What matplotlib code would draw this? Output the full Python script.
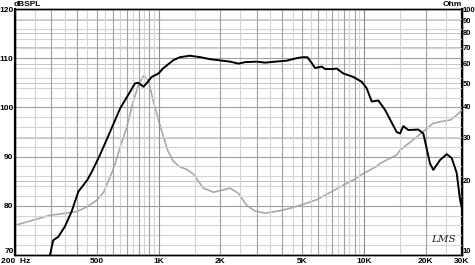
import numpy as np
import matplotlib
matplotlib.use("Agg")
import matplotlib.pyplot as plt
from matplotlib.ticker import NullLocator, FixedLocator

# -----------------------
# Data
# -----------------------
# SPL response (black, left axis)
spl_freq = [280, 296, 307, 325, 350, 377, 407, 449, 473, 518, 580, 650, 727,
            768, 797, 844, 874, 926, 1000, 1050, 1140, 1180, 1270, 1420, 1600,
            1780, 2040, 2230, 2450, 2640, 3000, 3300, 3700, 4200, 4700, 5000,
            5300, 5570, 5780, 6230, 6460, 7100, 7365, 7930, 8870, 9750, 10300,
            10910, 11740, 12660, 14420, 14980, 15540, 16430, 18380, 19450,
            20950, 21750, 23450, 25290, 26730, 28260, 29360, 30000]
spl_db = [67.5, 70.0, 73.0, 73.7, 75.8, 78.8, 82.9, 85.2, 86.9, 90.3, 95.0,
          99.8, 103.2, 104.9, 105.0, 104.2, 104.9, 106.2, 106.9, 107.9, 109.1,
          109.6, 110.2, 110.5, 110.2, 109.8, 109.5, 109.3, 108.9, 109.2, 109.3,
          109.1, 109.3, 109.5, 110.0, 110.2, 110.2, 109.0, 108.0, 108.3, 107.8,
          107.8, 107.9, 106.9, 106.2, 105.2, 103.9, 101.2, 101.4, 99.5, 95.0,
          94.7, 96.2, 95.4, 95.5, 94.7, 88.6, 87.3, 89.3, 90.5, 89.7, 86.7,
          81.2, 79.5]

# Impedance (grey, right axis)
imp_freq = [200, 296, 399, 449, 500, 540, 570, 610, 650, 700, 740, 797, 844,
            890, 940, 1010, 1060, 1110, 1180, 1270, 1370, 1480, 1560, 1650,
            1850, 2020, 2230, 2450, 2670, 2940, 3300, 3830, 4400, 5100, 5900,
            6800, 8000, 9000, 9600, 11500, 12000, 14400, 15000, 17000, 19400,
            21700, 23400, 26400, 28000, 30000]
imp_ohm = [13.2, 14.5, 15.0, 15.7, 16.7, 18.0, 20.0, 23.0, 27.5, 33.0, 40.0,
           49.0, 53.5, 51.5, 42.6, 34.3, 30.0, 26.5, 24.0, 22.8, 22.3, 21.3,
           20.0, 18.7, 18.0, 18.3, 18.7, 17.8, 16.0, 15.1, 14.8, 15.1, 15.5,
           16.1, 16.8, 17.9, 19.3, 20.3, 21.1, 22.9, 23.6, 25.5, 26.7, 29.0,
           31.7, 34.3, 34.8, 35.4, 36.8, 38.8]

x_ticks = [500, 1000, 2000, 5000, 10000, 20000, 30000]
x_labels = ["500", "1K", "2K", "5K", "10K", "20K", "30K"]
db_ticks = [70, 80, 90, 100, 110, 120]
ohm_ticks = [10, 20, 30, 40, 50, 60, 70, 80, 90, 100]

# -----------------------
# Figure
# -----------------------
plt.rcParams['font.family'] = ['Liberation Sans', 'DejaVu Sans']
FS = 6

fig = plt.figure(figsize=(4.75, 2.65), dpi=100)
ax = fig.add_axes([15 / 475, 10 / 265, 447 / 475, 246 / 265])
ax2 = ax.twinx()

ax.set_xscale("log")
ax.set_xlim(200, 30000)
ax.set_ylim(70, 120)
ax2.set_yscale("log")
ax2.set_ylim(10, 100)

# grid: whole steps darker, half steps lighter
dark, light = "#a0a0a0", "#d4d4d4"
for dec in [100, 1000, 10000]:
    for m in range(1, 10):
        f = m * dec
        if 200 <= f <= 30000:
            c = "#8c8c8c" if m == 1 else dark
            ax.axvline(f, color=c, lw=0.8, zorder=1)
        fh = (m + 0.5) * dec
        if 200 < fh < 30000:
            ax.axvline(fh, color=light, lw=0.8, zorder=0.5)
for d in range(70, 121, 2):
    ax.axhline(d, color=dark if d % 10 == 0 else light, lw=0.8,
               zorder=1 if d % 10 == 0 else 0.5)
for z in ohm_ticks[1:-1]:
    ax2.axhline(z, color="#c4c4c4", lw=0.7, zorder=0.4)

# curves
ax2.plot(imp_freq, imp_ohm, color="#a9a9a9", lw=1.2, zorder=3)
ax.plot(spl_freq, spl_db, color="black", lw=1.4, zorder=4)
ax.set_zorder(ax2.get_zorder() + 1)
ax.patch.set_visible(False)

# ticks
ax.xaxis.set_major_locator(FixedLocator(x_ticks))
ax.set_xticklabels(x_labels)
ax.xaxis.set_minor_locator(NullLocator())
ax.set_yticks(db_ticks)
ax.set_yticklabels([str(v) for v in db_ticks])
ax2.yaxis.set_major_locator(FixedLocator(ohm_ticks))
ax2.yaxis.set_minor_locator(NullLocator())
ax2.set_yticklabels([str(v) for v in ohm_ticks])

ax.tick_params(axis="x", length=0, pad=2, labelsize=FS)
ax.tick_params(axis="y", length=0, pad=1, labelsize=FS)
ax2.tick_params(axis="y", length=0, pad=0.3, labelsize=5.5)
for lab in ax.get_xticklabels() + ax.get_yticklabels() + ax2.get_yticklabels():
    lab.set_fontweight("bold")
ax.get_yticklabels()[0].set_va("bottom")
ax2.get_yticklabels()[0].set_va("bottom")

for a in (ax, ax2):
    for s in a.spines.values():
        s.set_color("black")
        s.set_linewidth(1.0)
ax2.spines["left"].set_linewidth(1.6)
ax2.spines["right"].set_linewidth(1.6)

# extra labels
ax.annotate("200  Hz", xy=(200, 0), xycoords=("data", "axes fraction"),
            xytext=(-10, -2), textcoords="offset points", ha="left", va="top",
            fontsize=FS, fontweight="bold")
fig.text(14 / 475, 1 - 4 / 265, "dBSPL", ha="left", va="center",
         fontsize=FS, fontweight="bold")
fig.text(462 / 475, 1 - 4 / 265, "Ohm", ha="right", va="center",
         fontsize=FS, fontweight="bold")
ax.text(0.985, 0.065, "LMS", transform=ax.transAxes, ha="right", va="center",
        fontsize=7.5, style="italic", family="DejaVu Serif", color="#222222")

fig.savefig("out.png", dpi=100)
